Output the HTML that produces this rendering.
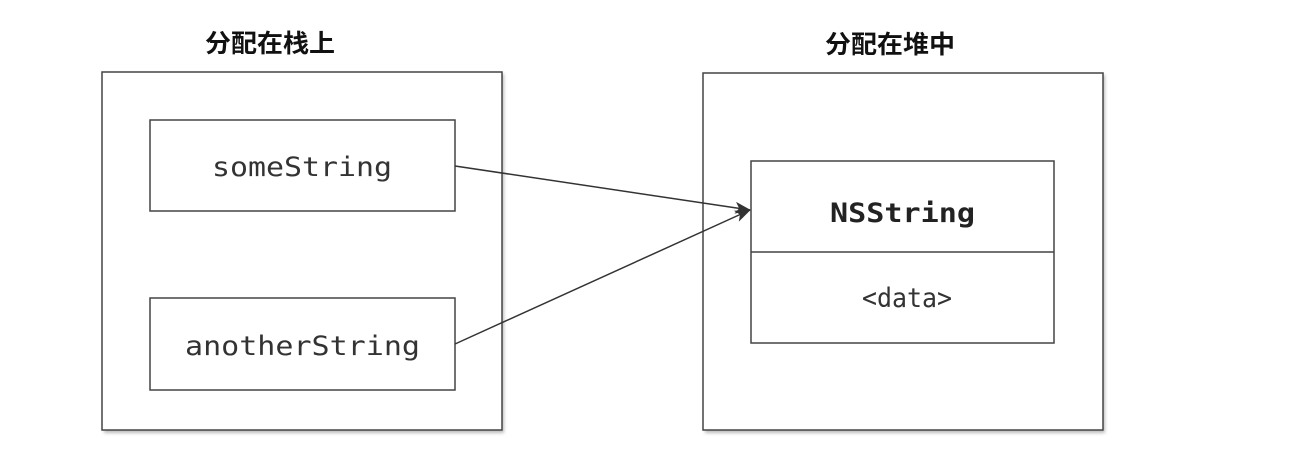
<!DOCTYPE html>
<html><head><meta charset="utf-8"><style>
html,body{margin:0;padding:0;background:#fff;}
</style></head><body>
<svg width="1294" height="462" xmlns="http://www.w3.org/2000/svg">
<defs>
<filter id="s" x="-5%" y="-5%" width="110%" height="110%"><feGaussianBlur stdDeviation="1.5"/></filter>
<marker id="a" markerWidth="16" markerHeight="12" refX="15" refY="6" orient="auto" markerUnits="userSpaceOnUse">
<path d="M0,0 L16,6 L0,12 L4,6 Z" fill="#333"/></marker>
</defs>
<rect x="104" y="74" width="400" height="359" fill="#bbb" filter="url(#s)"/>
<rect x="102" y="72" width="400" height="358" fill="#fff" stroke="#444" stroke-width="1.5"/>
<rect x="705" y="75" width="400" height="358" fill="#bbb" filter="url(#s)"/>
<rect x="703" y="73" width="400" height="357" fill="#fff" stroke="#444" stroke-width="1.5"/>
<rect x="150" y="120" width="305" height="91" fill="#fff" stroke="#444" stroke-width="1.5"/>
<rect x="150" y="298" width="305" height="92" fill="#fff" stroke="#444" stroke-width="1.5"/>
<rect x="751" y="161" width="303" height="182" fill="#fff" stroke="#444" stroke-width="1.5"/>
<line x1="751" y1="252" x2="1054" y2="252" stroke="#444" stroke-width="1.5"/>
<line x1="455" y1="166" x2="750" y2="210" stroke="#333" stroke-width="1.5" marker-end="url(#a)"/>
<line x1="455" y1="344" x2="750" y2="210" stroke="#333" stroke-width="1.5" marker-end="url(#a)"/>
<g font-family="'Noto Sans CJK SC',sans-serif" font-weight="bold" font-size="25" fill="#111">
<text x="205" y="52" textLength="130" lengthAdjust="spacingAndGlyphs">分配在栈上</text>
<text x="825" y="53" textLength="130" lengthAdjust="spacingAndGlyphs">分配在堆中</text>
</g>
<g font-family="'DejaVu Sans Mono','Liberation Mono',monospace" font-size="27" fill="#333" lengthAdjust="spacingAndGlyphs">
<text x="212" y="176" textLength="180" lengthAdjust="spacingAndGlyphs">someString</text>
<text x="185" y="355" textLength="235" lengthAdjust="spacingAndGlyphs">anotherString</text>
<text x="830" y="222" textLength="145" lengthAdjust="spacingAndGlyphs" font-weight="bold" fill="#222">NSString</text>
<text x="862" y="307" textLength="90" lengthAdjust="spacingAndGlyphs">&lt;data&gt;</text>
</g>
</svg>
</body></html>
